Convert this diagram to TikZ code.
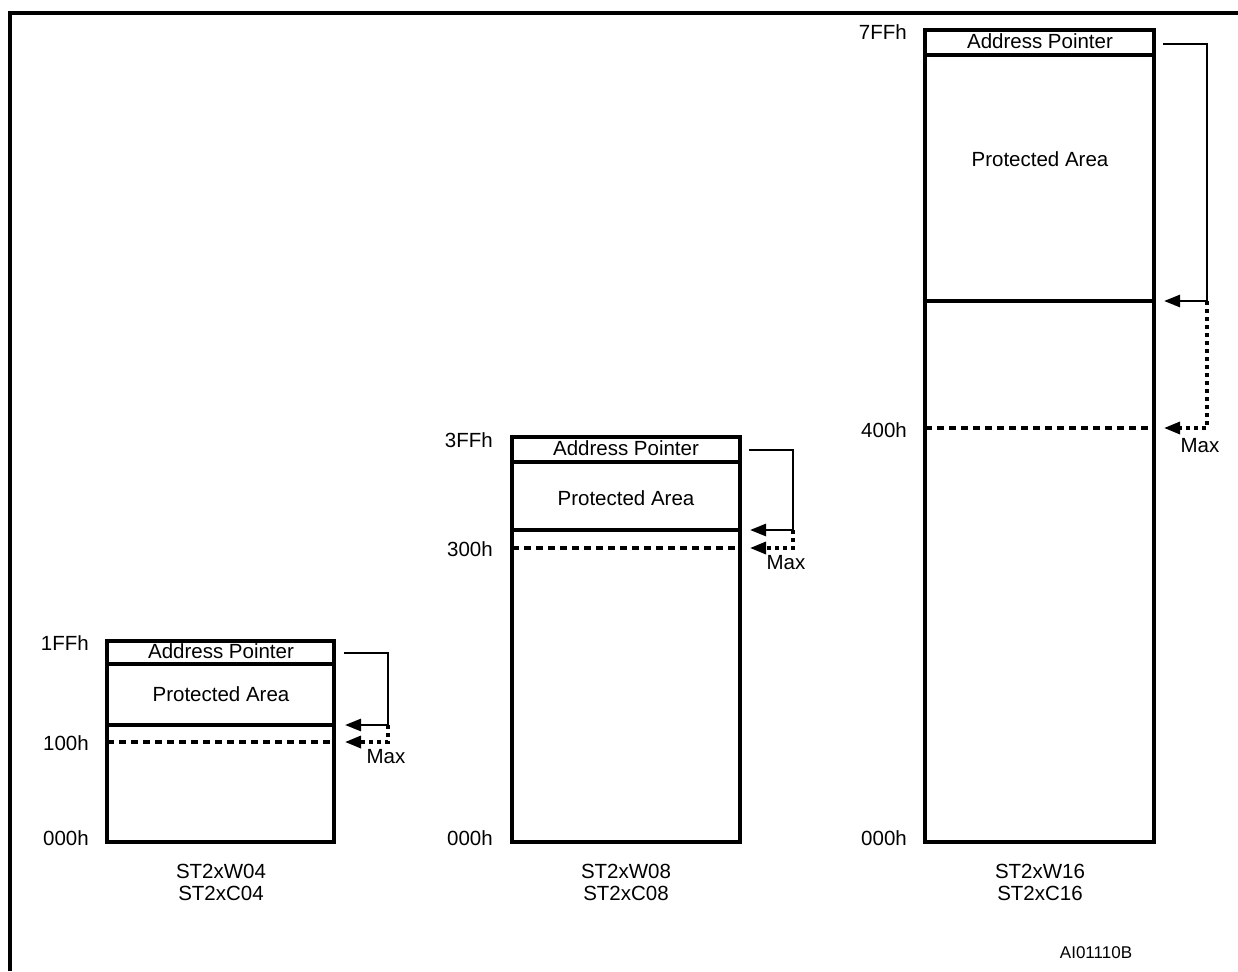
\documentclass[tikz,border=0pt]{standalone}
\usepackage{fontspec}
\setmainfont{Liberation Sans}
\usetikzlibrary{arrows.meta}
\begin{document}
\begin{tikzpicture}[x=1pt,y=-1pt,
  frameline/.style={line width=3.2pt},
  boxline/.style={line width=3.2pt},
  dashline/.style={line width=3.2pt, dash pattern=on 7pt off 5pt},
  arr/.style={line width=2.6pt, -{Triangle[length=16pt,width=12pt]}},
  dotarr/.style={line width=3.2pt, dash pattern=on 4pt off 4pt, -{Triangle[length=16pt,width=12pt]}},
  txt/.style={font=\fontsize{20.5}{24}\selectfont, inner sep=0pt},
  addr/.style={txt, anchor=east},
  small/.style={font=\fontsize{17}{20}\selectfont, inner sep=0pt}]
\useasboundingbox (0,0) rectangle (1238,971);
% frame
\coordinate (f1) at (10,971);
\coordinate (f2) at (10,13);
\coordinate (f3) at (1238,13);
\draw[frameline] (f1) -- (f2) -- (f3);

% ---------------- chip 1 ----------------
\coordinate (c1tl) at (107,641);
\coordinate (c1br) at (334,842);
\draw[boxline] (c1tl) rectangle (c1br);
\draw[boxline] (107,664) -- (334,664);
\draw[boxline] (107,725) -- (334,725);
\draw[dashline] (107,742) -- (334,742);
\node[txt] (c1ap) at (221,651) {Address Pointer};
\node[txt] (c1pa) at (221,694) {Protected Area};
\node[addr] (c1l1) at (89,643) {1FFh};
\node[addr] (c1l2) at (89,743) {100h};
\node[addr] (c1l3) at (89,838) {000h};
\node[txt] (c1n1) at (221,871) {ST2xW04};
\node[txt] (c1n2) at (221,893) {ST2xC04};
\coordinate (c1s) at (344,653);
\coordinate (c1k) at (388,653);
\coordinate (c1d) at (388,725);
\coordinate (c1e) at (345,725);
\coordinate (c1m) at (388,742);
\coordinate (c1f) at (345,742);
\draw[arr] (c1s) -- (c1k) -- (c1d) -- (c1e);
\draw[dotarr] (c1d) -- (c1m) -- (c1f);
\node[txt] (c1max) at (386,757) {Max};

% ---------------- chip 2 ----------------
\coordinate (c2tl) at (512,437);
\coordinate (c2br) at (740,842);
\draw[boxline] (c2tl) rectangle (c2br);
\draw[boxline] (512,462) -- (740,462);
\draw[boxline] (512,530) -- (740,530);
\draw[dashline] (512,548) -- (740,548);
\node[txt] (c2ap) at (626,448) {Address Pointer};
\node[txt] (c2pa) at (626,498) {Protected Area};
\node[addr] (c2l1) at (493,440) {3FFh};
\node[addr] (c2l2) at (493,549) {300h};
\node[addr] (c2l3) at (493,838) {000h};
\node[txt] (c2n1) at (626,871) {ST2xW08};
\node[txt] (c2n2) at (626,893) {ST2xC08};
\coordinate (c2s) at (749,450);
\coordinate (c2k) at (793,450);
\coordinate (c2d) at (793,530);
\coordinate (c2e) at (750,530);
\coordinate (c2m) at (793,548);
\coordinate (c2f) at (750,548);
\draw[arr] (c2s) -- (c2k) -- (c2d) -- (c2e);
\draw[dotarr] (c2d) -- (c2m) -- (c2f);
\node[txt] (c2max) at (786,563) {Max};

% ---------------- chip 3 ----------------
\coordinate (c3tl) at (925,30);
\coordinate (c3br) at (1154,842);
\draw[boxline] (c3tl) rectangle (c3br);
\draw[boxline] (925,55) -- (1154,55);
\draw[boxline] (925,301) -- (1154,301);
\draw[dashline] (925,428) -- (1154,428);
\node[txt] (c3ap) at (1040,41) {Address Pointer};
\node[txt] (c3pa) at (1040,159) {Protected Area};
\node[addr] (c3l1) at (907,32) {7FFh};
\node[addr] (c3l2) at (907,430) {400h};
\node[addr] (c3l3) at (907,838) {000h};
\node[txt] (c3n1) at (1040,871) {ST2xW16};
\node[txt] (c3n2) at (1040,893) {ST2xC16};
\coordinate (c3s) at (1163,44);
\coordinate (c3k) at (1207,44);
\coordinate (c3d) at (1207,301);
\coordinate (c3e) at (1164,301);
\coordinate (c3m) at (1207,428);
\coordinate (c3f) at (1164,428);
\draw[arr] (c3s) -- (c3k) -- (c3d) -- (c3e);
\draw[dotarr] (c3d) -- (c3m) -- (c3f);
\node[txt] (c3max) at (1200,446) {Max};

\node[small] (id) at (1096,953) {AI01110B};
\end{tikzpicture}
\end{document}
